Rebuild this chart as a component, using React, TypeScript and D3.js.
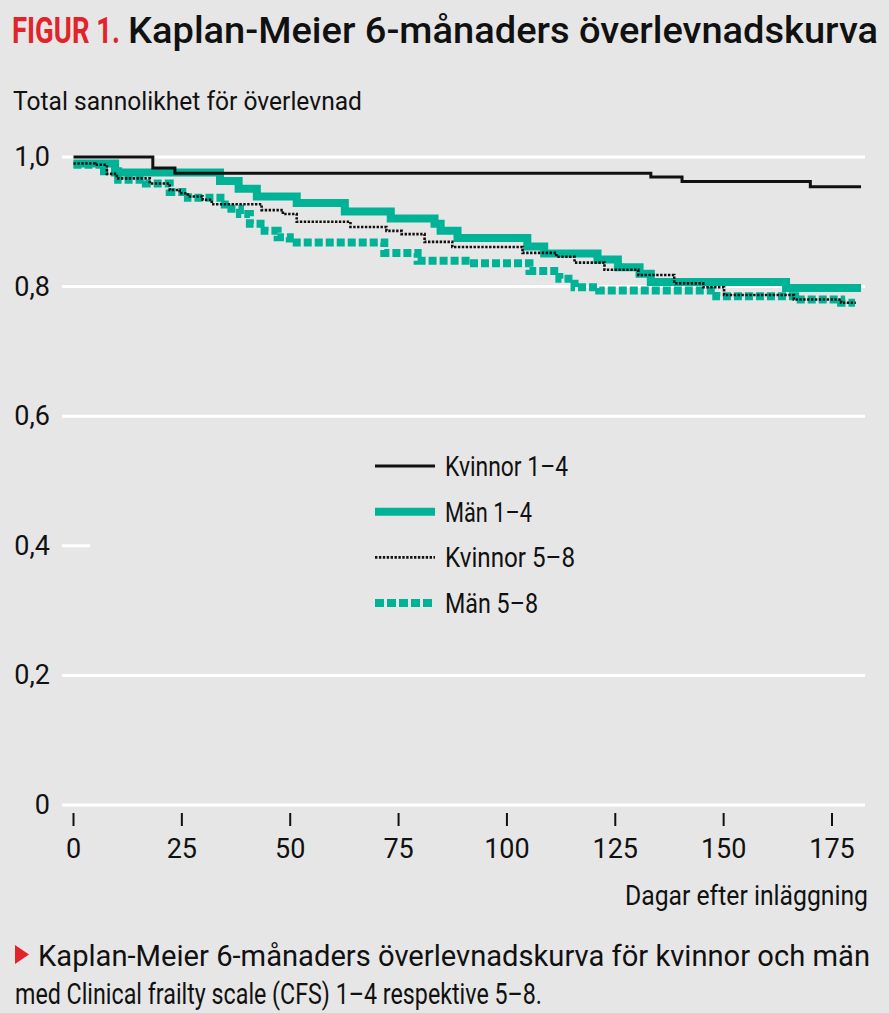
import * as d3 from 'd3';

const VW = 889;
const VH = 1013;

const BG = '#e6e6e6';
const TEAL = '#00b296';
const RED = '#e2232a';
const INK = '#111';
const FONT = 'Roboto, "Noto Sans", sans-serif';

// Kaplan-Meier steps: day of the step and survival after it
const K14_DAYS = [0, 18.3, 23.4, 133.2, 140.4, 170, 181.7];
const K14_SURV = [1.0, 0.983, 0.975, 0.969, 0.962, 0.954, 0.954];

const M14_DAYS = [0, 9.6, 33.8, 38.1, 42.3, 51.5, 62.6, 73.2, 83.3, 84.7, 88.6, 104.7, 108.6, 120.9, 125.6, 130.6, 133.2, 164.4, 181.7];
const M14_SURV = [0.99, 0.976, 0.963, 0.951, 0.939, 0.929, 0.916, 0.905, 0.897, 0.886, 0.875, 0.862, 0.851, 0.842, 0.83, 0.82, 0.807, 0.798, 0.798];

const K58_DAYS = [0, 5.0, 7.7, 10.0, 17.6, 22.2, 24.5, 26.4, 29.8, 31.9, 43.4, 48.3, 51.5, 63.9, 72.2, 75.7, 81.0, 87.4, 103.6, 111.4, 115.6, 122.5, 130.3, 138.6, 145.3, 150.1, 166.2, 177.1, 180.5];
const K58_SURV = [0.99, 0.988, 0.974, 0.967, 0.959, 0.949, 0.944, 0.939, 0.934, 0.927, 0.918, 0.912, 0.9, 0.892, 0.886, 0.881, 0.869, 0.861, 0.852, 0.846, 0.837, 0.826, 0.818, 0.805, 0.799, 0.787, 0.78, 0.775, 0.775];

const M58_DAYS = [0, 6.1, 10.3, 16.7, 22.2, 26.4, 34.9, 38.4, 40.7, 44.1, 47.1, 49.9, 71.7, 79.4, 91.4, 105.2, 112.1, 115.6, 121.3, 148.3, 166.5, 177.1, 180.3];
const M58_SURV = [0.988, 0.978, 0.965, 0.959, 0.946, 0.937, 0.92, 0.912, 0.897, 0.886, 0.876, 0.868, 0.852, 0.84, 0.836, 0.824, 0.812, 0.799, 0.794, 0.785, 0.78, 0.775, 0.775];

const X_TICKS = [0, 25, 50, 75, 100, 125, 150, 175];
const Y_TICKS = [0, 0.2, 0.4, 0.6, 0.8, 1.0];
const Y_LABELS = ['0', '0,2', '0,4', '0,6', '0,8', '1,0'];

const LEGEND = ['Kvinnor 1–4', 'Män 1–4', 'Kvinnor 5–8', 'Män 5–8'];

const x = d3.scaleLinear().domain([0, 175]).range([73.5, 832]);
const y = d3.scaleLinear().domain([0, 1]).range([805, 157]);

const GRID_X0 = 62;
const GRID_X1 = 865;

interface Style { stroke: string; width: number; dash?: string }
const STYLES: Style[] = [
  { stroke: INK, width: 3 },
  { stroke: TEAL, width: 8 },
  { stroke: INK, width: 2.6, dash: '2.4 1.5' },
  { stroke: TEAL, width: 8, dash: '8 3' },
];

const SERIES = [
  { days: K14_DAYS, surv: K14_SURV },
  { days: M14_DAYS, surv: M14_SURV },
  { days: K58_DAYS, surv: K58_SURV },
  { days: M58_DAYS, surv: M58_SURV },
];

const line = d3.line<[number, number]>()
  .x(d => x(d[0]))
  .y(d => y(d[1]))
  .curve(d3.curveStepAfter);

const pathFor = (days: number[], surv: number[]) =>
  line(days.map((d, i) => [d, surv[i]] as [number, number])) ?? '';

// draw order: teal dashed at the bottom, black dotted and solid on top
const DRAW_ORDER = [3, 1, 2, 0];
const LEGEND_W = [123, 87, 130, 93];

export default function App() {
  return (
    <>
      <style>{'body{margin:0;background:' + BG + '}'}</style>
      <svg width={VW} height={VH} viewBox={`0 0 ${VW} ${VH}`} style={{ display: 'block' }}>
        <rect x={0} y={0} width={VW} height={VH} fill={BG} />

        {/* red label is a very condensed face: squeeze it horizontally */}
        <g transform="translate(12,43) scale(0.7,1)">
          <text x={0} y={0} fontFamily={FONT} fontSize={37} fontWeight={700} fill={RED}
            textLength={108 / 0.7} lengthAdjust="spacingAndGlyphs">FIGUR 1.</text>
        </g>
        <text x={128} y={43} fontFamily={FONT} fontSize={37} fontWeight={500} fill={INK}
          textLength={750} lengthAdjust="spacingAndGlyphs">Kaplan-Meier 6-månaders överlevnadskurva</text>

        <text x={13} y={110} fontFamily={FONT} fontSize={26} fill={INK}
          textLength={349} lengthAdjust="spacingAndGlyphs">Total sannolikhet för överlevnad</text>

        {Y_TICKS.map((t, i) => (
          <g key={`y${t}`}>
            <line x1={GRID_X0} x2={t === 0.4 ? 90 : GRID_X1} y1={y(t)} y2={y(t)}
              stroke="#fff" strokeWidth={3} />
            <text x={50} y={y(t) + 9} textAnchor="end" fontFamily={FONT} fontSize={27} fill={INK}>
              {Y_LABELS[i]}
            </text>
          </g>
        ))}

        {X_TICKS.map(t => (
          <g key={`x${t}`}>
            <line x1={x(t)} x2={x(t)} y1={813} y2={826} stroke={INK} strokeWidth={2} />
            <text x={x(t)} y={858} textAnchor="middle" fontFamily={FONT} fontSize={27} fill={INK}>
              {t}
            </text>
          </g>
        ))}

        <text x={868} y={905} textAnchor="end" fontFamily={FONT} fontSize={27} fill={INK}
          textLength={243} lengthAdjust="spacingAndGlyphs">Dagar efter inläggning</text>

        {DRAW_ORDER.map(i => (
          <path key={`s${i}`} d={pathFor(SERIES[i].days, SERIES[i].surv)} fill="none"
            stroke={STYLES[i].stroke} strokeWidth={STYLES[i].width}
            strokeDasharray={STYLES[i].dash} strokeLinejoin="miter" />
        ))}

        {LEGEND.map((label, i) => {
          const ly = 466 + i * 45.7;
          return (
            <g key={label}>
              <line x1={375} x2={435} y1={ly} y2={ly} stroke={STYLES[i].stroke}
                strokeWidth={STYLES[i].width} strokeDasharray={i === 3 ? '9 3' : STYLES[i].dash} />
              <text x={445} y={ly + 10} fontFamily={FONT} fontSize={27} fill={INK}
                textLength={LEGEND_W[i]} lengthAdjust="spacingAndGlyphs">{label}</text>
            </g>
          );
        })}

        <path d="M15,945 L15,964 L29,954.5 Z" fill={RED} />
        <text x={38} y={966} fontFamily={FONT} fontSize={29} fill={INK}
          textLength={832} lengthAdjust="spacingAndGlyphs">Kaplan-Meier 6-månaders överlevnadskurva för kvinnor och män</text>
        <text x={15} y={1004} fontFamily={FONT} fontSize={29} fill={INK}
          textLength={527} lengthAdjust="spacingAndGlyphs">med Clinical frailty scale (CFS) 1–4 respektive 5–8.</text>
      </svg>
    </>
  );
}
